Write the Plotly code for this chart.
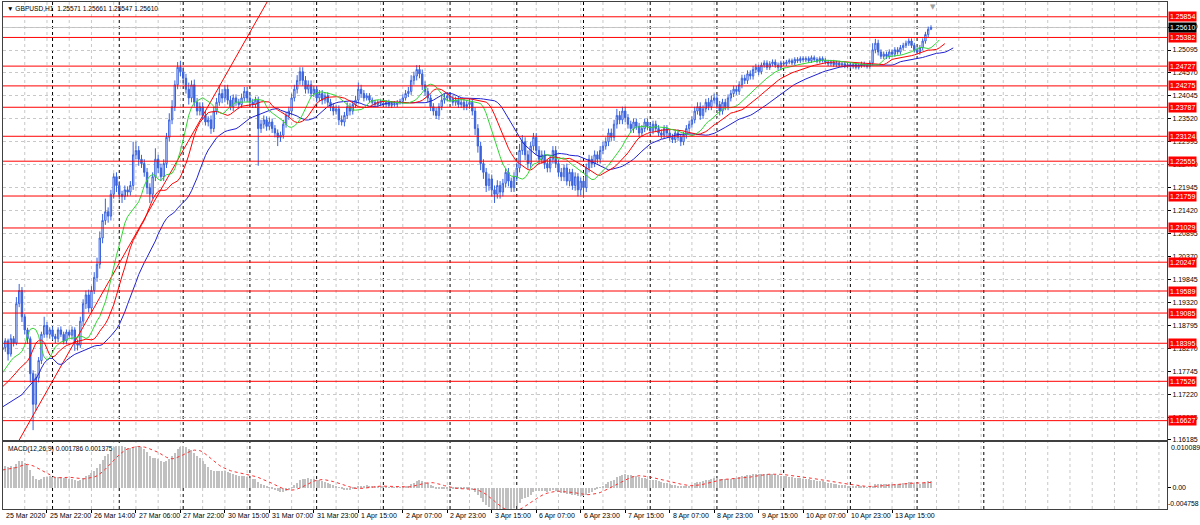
import plotly.graph_objects as go

# ---------------- data ----------------
FIRST_OPEN = 1.1825

CLOSE = [
    1.1830, 1.1845, 1.1815, 1.1850, 1.1840, 1.1930, 1.1960, 1.1900, 1.1870, 1.1850,
    1.1770, 1.1700, 1.1760, 1.1800, 1.1860, 1.1880, 1.1860, 1.1870, 1.1855, 1.1850,
    1.1870, 1.1860, 1.1845, 1.1865, 1.1858, 1.1870, 1.1840, 1.1835, 1.1890, 1.1930,
    1.1950, 1.1920, 1.1960, 1.1990, 1.2020, 1.2080, 1.2120, 1.2140, 1.2130, 1.2180,
    1.2220, 1.2200, 1.2180, 1.2175, 1.2190, 1.2185, 1.2200, 1.2270, 1.2280, 1.2260,
    1.2250, 1.2230, 1.2195, 1.2180, 1.2220, 1.2260, 1.2240, 1.2220, 1.2250, 1.2310,
    1.2350, 1.2380, 1.2430, 1.2470, 1.2460, 1.2445, 1.2420, 1.2400, 1.2430, 1.2390,
    1.2370, 1.2380, 1.2360, 1.2345, 1.2350, 1.2330, 1.2370, 1.2390, 1.2410, 1.2400,
    1.2420, 1.2395, 1.2380, 1.2400, 1.2390, 1.2385, 1.2400, 1.2415, 1.2400, 1.2390,
    1.2385, 1.2395, 1.2330, 1.2340, 1.2350, 1.2335, 1.2345, 1.2330, 1.2320, 1.2310,
    1.2315, 1.2340, 1.2360, 1.2370, 1.2400, 1.2420, 1.2440, 1.2460, 1.2440, 1.2420,
    1.2430, 1.2410, 1.2420, 1.2400, 1.2410, 1.2395, 1.2405, 1.2390, 1.2380, 1.2370,
    1.2375, 1.2350, 1.2345, 1.2360, 1.2380, 1.2370, 1.2385, 1.2395, 1.2420, 1.2410,
    1.2400, 1.2405, 1.2395, 1.2390, 1.2385, 1.2390, 1.2388, 1.2385, 1.2390, 1.2383,
    1.2387, 1.2385, 1.2390, 1.2392, 1.2400, 1.2410, 1.2415, 1.2440, 1.2450, 1.2465,
    1.2455, 1.2430, 1.2415, 1.2400, 1.2380, 1.2370, 1.2360, 1.2380, 1.2395, 1.2400,
    1.2405, 1.2398, 1.2390, 1.2395, 1.2385, 1.2390, 1.2380, 1.2385, 1.2390, 1.2370,
    1.2330, 1.2290, 1.2250, 1.2230, 1.2200, 1.2215, 1.2190, 1.2180, 1.2200, 1.2185,
    1.2205, 1.2230, 1.2210, 1.2195, 1.2220, 1.2240, 1.2280, 1.2300, 1.2270, 1.2250,
    1.2290, 1.2310, 1.2280, 1.2260, 1.2270, 1.2250, 1.2240, 1.2260, 1.2280, 1.2250,
    1.2230, 1.2220, 1.2240, 1.2210, 1.2230, 1.2200, 1.2220, 1.2190, 1.2210, 1.2195,
    1.2240, 1.2260, 1.2250, 1.2270, 1.2260, 1.2280, 1.2290, 1.2300, 1.2320, 1.2310,
    1.2340, 1.2360, 1.2350, 1.2370, 1.2355, 1.2340, 1.2330, 1.2345, 1.2335, 1.2320,
    1.2330, 1.2345, 1.2335, 1.2325, 1.2340, 1.2330, 1.2320, 1.2315, 1.2330, 1.2320,
    1.2310, 1.2305, 1.2320, 1.2310, 1.2300, 1.2315, 1.2330, 1.2340, 1.2350, 1.2370,
    1.2380, 1.2360, 1.2375, 1.2390, 1.2380, 1.2395, 1.2400, 1.2385, 1.2370, 1.2390,
    1.2380, 1.2400, 1.2410, 1.2420, 1.2415, 1.2430, 1.2445, 1.2440, 1.2455, 1.2450,
    1.2465, 1.2470, 1.2460, 1.2475, 1.2480, 1.2470, 1.2478, 1.2482, 1.2475, 1.2470,
    1.2480, 1.2478, 1.2482, 1.2485, 1.2480, 1.2488, 1.2485, 1.2490, 1.2487, 1.2490,
    1.2485, 1.2492, 1.2488, 1.2484, 1.2490, 1.2486, 1.2482, 1.2478, 1.2482, 1.2476,
    1.2480, 1.2475, 1.2478, 1.2473, 1.2476, 1.2472, 1.2476, 1.2470, 1.2474, 1.2478,
    1.2475, 1.2472, 1.2480, 1.2510, 1.2525, 1.2505, 1.2495, 1.2500, 1.2495, 1.2505,
    1.2500, 1.2510, 1.2505, 1.2515, 1.2520, 1.2525, 1.2530, 1.2520, 1.2510, 1.2505,
    1.2515, 1.2530, 1.2545, 1.2557, 1.2561,
]

# upper / lower wick beyond the body, in pips (0.0001)
HI_WICK = [
    8, 6, 5, 10, 6, 15, 15, 8, 6, 5,
    5, 8, 10, 8, 6, 20, 8, 6, 8, 6,
    6, 8, 6, 6, 6, 8, 6, 8, 10, 10,
    10, 12, 10, 12, 15, 15, 15, 30, 10, 10,
    8, 10, 10, 8, 10, 8, 10, 30, 20, 10,
    10, 10, 10, 10, 10, 25, 10, 10, 10, 10,
    15, 15, 10, 12, 15, 10, 10, 15, 10, 12,
    10, 10, 10, 10, 8, 10, 10, 10, 20, 10,
    10, 10, 10, 8, 8, 8, 10, 10, 10, 8,
    8, 8, 8, 10, 10, 8, 10, 8, 8, 8,
    8, 10, 8, 10, 10, 10, 12, 10, 10, 10,
    10, 10, 8, 8, 8, 8, 8, 8, 8, 8,
    8, 8, 10, 8, 10, 8, 8, 10, 15, 10,
    8, 6, 6, 6, 6, 5, 6, 6, 5, 6,
    5, 6, 5, 6, 8, 8, 10, 12, 10, 10,
    10, 10, 8, 8, 8, 8, 8, 8, 10, 10,
    8, 8, 8, 8, 8, 8, 8, 8, 8, 8,
    8, 10, 10, 10, 10, 12, 10, 10, 12, 10,
    10, 10, 10, 8, 10, 12, 15, 15, 10, 10,
    10, 10, 10, 10, 10, 10, 10, 10, 10, 10,
    8, 10, 8, 10, 8, 8, 10, 8, 8, 10,
    10, 10, 8, 10, 8, 10, 10, 10, 10, 10,
    10, 15, 10, 10, 10, 8, 8, 8, 8, 8,
    8, 8, 8, 8, 8, 8, 8, 8, 8, 8,
    8, 8, 8, 8, 8, 8, 8, 8, 8, 10,
    10, 10, 8, 8, 10, 10, 10, 8, 8, 8,
    8, 8, 8, 8, 8, 8, 8, 8, 8, 8,
    8, 8, 6, 6, 6, 6, 6, 6, 6, 6,
    5, 5, 5, 5, 5, 5, 5, 5, 5, 5,
    5, 5, 5, 5, 5, 5, 5, 5, 5, 5,
    5, 5, 5, 5, 5, 5, 5, 5, 5, 5,
    5, 5, 6, 15, 10, 8, 6, 6, 6, 6,
    6, 6, 6, 6, 6, 6, 6, 6, 6, 6,
    6, 6, 6, 6, 5,
]
LO_WICK = [
    6, 10, 15, 6, 8, 5, 8, 12, 10, 12,
    20, 59, 15, 10, 8, 8, 8, 10, 8, 10,
    8, 6, 8, 8, 6, 10, 18, 12, 6, 10,
    12, 10, 10, 8, 10, 10, 12, 10, 15, 10,
    10, 15, 12, 15, 8, 10, 8, 10, 10, 15,
    10, 10, 15, 20, 10, 10, 12, 10, 10, 10,
    10, 10, 10, 10, 10, 15, 10, 15, 10, 10,
    10, 10, 10, 8, 10, 12, 8, 8, 8, 12,
    10, 10, 8, 10, 8, 10, 8, 8, 10, 8,
    8, 8, 85, 10, 10, 10, 8, 10, 10, 20,
    10, 8, 8, 10, 10, 8, 10, 10, 12, 10,
    10, 8, 8, 10, 8, 10, 8, 8, 10, 10,
    8, 12, 8, 10, 8, 10, 8, 8, 8, 10,
    8, 6, 6, 6, 5, 6, 6, 5, 6, 6,
    6, 5, 6, 5, 6, 6, 8, 8, 10, 10,
    10, 12, 10, 10, 10, 10, 8, 10, 8, 8,
    8, 8, 8, 8, 8, 8, 8, 8, 10, 10,
    15, 15, 15, 15, 15, 12, 15, 20, 10, 15,
    10, 10, 12, 10, 10, 10, 10, 10, 12, 12,
    10, 10, 10, 10, 10, 12, 10, 10, 10, 10,
    10, 10, 10, 10, 12, 10, 12, 15, 12, 23,
    10, 10, 10, 8, 10, 10, 8, 8, 10, 8,
    8, 10, 10, 10, 10, 10, 10, 10, 8, 10,
    8, 8, 8, 8, 8, 8, 8, 8, 8, 8,
    8, 8, 8, 8, 10, 8, 8, 8, 8, 8,
    8, 10, 8, 8, 8, 8, 8, 10, 10, 8,
    8, 8, 8, 8, 8, 8, 8, 8, 8, 8,
    8, 8, 8, 6, 6, 6, 6, 6, 6, 6,
    5, 5, 5, 5, 5, 5, 5, 5, 5, 5,
    5, 5, 5, 5, 5, 5, 5, 5, 5, 5,
    5, 5, 5, 5, 5, 5, 5, 5, 5, 5,
    5, 5, 5, 6, 8, 8, 6, 6, 6, 6,
    6, 6, 6, 6, 6, 6, 6, 6, 6, 6,
    6, 6, 6, 6, 2,
]

TIME_LABELS = ["25 Mar 2020", "25 Mar 22:00", "26 Mar 14:00", "27 Mar 06:00", "27 Mar 22:00",
               "30 Mar 15:00", "31 Mar 07:00", "31 Mar 23:00", "1 Apr 15:00", "2 Apr 07:00",
               "2 Apr 23:00", "3 Apr 15:00", "6 Apr 07:00", "6 Apr 23:00", "7 Apr 15:00",
               "8 Apr 07:00", "8 Apr 23:00", "9 Apr 15:00", "10 Apr 07:00", "10 Apr 23:00",
               "13 Apr 15:00"]
LABEL_BARS = [0, 16, 32, 48, 64, 80, 96, 112, 128, 144, 160, 176, 192, 208, 224,
              240, 256, 272, 288, 304, 320]
DAY_SEP_BARS = [18, 42, 65, 89, 113, 137, 161, 185, 209, 233, 257, 281, 305, 329, 353]

LEVELS = [1.25854, 1.25382, 1.24727, 1.24275, 1.23787, 1.23124, 1.22555, 1.21759,
          1.21029, 1.20247, 1.19589, 1.19085, 1.18395, 1.17526, 1.16627]
PRICE_TICKS = [1.16695, 1.17220, 1.17745, 1.18270, 1.18795, 1.19320, 1.19845, 1.20370,
               1.20895, 1.21420, 1.21945, 1.22470, 1.22995, 1.23520, 1.24045, 1.24570,
               1.25095, 1.25620]
PRICE_MIN = 1.16185
PRICE_TOP = 1.26192
CURRENT_PRICE = 1.25610
MACD_MAX = 0.010089
MACD_MIN = -0.004758

TREND_BARS = [5.6, 85.4]
TREND_PRICES = [1.1614, 1.25095]

# Alligator (jaw / teeth / lips): smoothed MA of median price, shifted forward
ALLIGATOR_PERIODS = [13, 8, 5]
ALLIGATOR_SHIFTS = [8, 5, 3]
# the lines' values over the first bars on screen (before the shifted data starts)
JAW_LEAD = [1.1694, 1.1698, 1.1701, 1.1705, 1.1710, 1.1714, 1.1719, 1.1722]
TEETH_LEAD = [1.1740, 1.1745, 1.1752, 1.1759, 1.1765]
LIPS_LEAD = [1.1772, 1.1782, 1.1792]

MACD_SEEDS = [1.1775, 1.1730, 0.0038]    # ema12, ema26, signal

TITLE = "\u25bc GBPUSD,H1  1.25571 1.25661 1.25547 1.25610"
MACD_TITLE = "MACD(12,26,9) 0.001786 0.001375"

# ---------------- derived series ----------------
n = len(CLOSE)
bars = list(range(n))
opens = [FIRST_OPEN] + CLOSE[:-1]
highs = [max(o, c) + h * 0.0001 for o, c, h in zip(opens, CLOSE, HI_WICK)]
lows = [min(o, c) - l * 0.0001 for o, c, l in zip(opens, CLOSE, LO_WICK)]
median = [(h + l) / 2 for h, l in zip(highs, lows)]


def ema(vals, period, seed):
    a = 2.0 / (period + 1)
    out, e = [], seed
    for v in vals:
        e = e + a * (v - e)
        out.append(e)
    return out


def smma(vals, period, prev):
    out = []
    for v in vals:
        prev = (prev * (period - 1) + v) / period
        out.append(prev)
    return out


alligator = []
for per, sh, lead in zip(ALLIGATOR_PERIODS, ALLIGATOR_SHIFTS, [JAW_LEAD, TEETH_LEAD, LIPS_LEAD]):
    vals = list(lead) + smma(median, per, lead[-1])
    alligator.append((list(range(len(vals))), vals))

e12 = ema(CLOSE, 12, MACD_SEEDS[0])
e26 = ema(CLOSE, 26, MACD_SEEDS[1])
macd = [a - b for a, b in zip(e12, e26)]
padded = [MACD_SEEDS[2]] * 8 + macd
signal = [sum(padded[i:i + 9]) / 9 for i in range(n)]

slope = (TREND_PRICES[1] - TREND_PRICES[0]) / (TREND_BARS[1] - TREND_BARS[0])
tr_x = [-5, 120]
tr_y = [TREND_PRICES[0] + slope * (x - TREND_BARS[0]) for x in tr_x]

# ---------------- figure ----------------
BLUE_C = "#3a62dc"
FONT = "Liberation Sans"
FS = 7
X_RANGE = [0.18, 418.9]

fig = go.Figure()

fig.add_trace(go.Scatter(x=tr_x, y=tr_y, mode="lines", line=dict(color="#ff0000", width=1),
                         xaxis="x", yaxis="y", hoverinfo="skip"))
fig.add_trace(go.Candlestick(
    x=bars, open=opens, high=highs, low=lows, close=CLOSE,
    increasing=dict(line=dict(color=BLUE_C, width=1), fillcolor="#ffffff"),
    decreasing=dict(line=dict(color=BLUE_C, width=1), fillcolor=BLUE_C),
    whiskerwidth=0, xaxis="x", yaxis="y"))
for (xs, vals), col in zip(alligator, ["#2222d0", "#ff0000", "#33d633"]):
    fig.add_trace(go.Scatter(x=xs, y=vals, mode="lines", line=dict(color=col, width=1),
                             xaxis="x", yaxis="y", hoverinfo="skip"))

fig.add_trace(go.Bar(x=bars, y=macd, width=0.4, marker=dict(color="#c0c0c0", line=dict(width=0)),
                     xaxis="x2", yaxis="y2"))
fig.add_trace(go.Scatter(x=bars, y=signal, mode="lines",
                         line=dict(color="#ff3030", width=1, dash="dot"),
                         xaxis="x2", yaxis="y2", hoverinfo="skip"))

shapes = []
for b in range(0, 419, 8):
    shapes.append(dict(type="line", xref="x", yref="paper", x0=b, x1=b, y0=0, y1=1,
                       line=dict(color="#c8c8c8", width=1, dash="3px,3px"), layer="below"))
for b in DAY_SEP_BARS:
    shapes.append(dict(type="line", xref="x", yref="paper", x0=b, x1=b, y0=0, y1=1,
                       line=dict(color="#000000", width=1, dash="3px,3px"), layer="below"))
shapes.append(dict(type="line", xref="paper", yref="y", x0=0, x1=1, y0=CURRENT_PRICE,
                   y1=CURRENT_PRICE, line=dict(color="#c0c0c0", width=1), layer="below"))
for lv in LEVELS:
    shapes.append(dict(type="line", xref="paper", yref="y", x0=0, x1=1, y0=lv, y1=lv,
                       line=dict(color="#ff0000", width=1)))

annotations = []
for lv in LEVELS:
    annotations.append(dict(x=1, xref="paper", y=lv, yref="y", xanchor="left", yanchor="middle",
                            text=f"{lv:.5f}", showarrow=False, bgcolor="#ff0000",
                            font=dict(color="#ffffff", size=FS, family=FONT),
                            borderpad=1, xshift=1))
annotations.append(dict(x=1, xref="paper", y=CURRENT_PRICE, yref="y", xanchor="left",
                        yanchor="middle", text=f"{CURRENT_PRICE:.5f}", showarrow=False,
                        bgcolor="#000000", font=dict(color="#ffffff", size=FS, family=FONT),
                        borderpad=1, xshift=1))
for b, t in zip(LABEL_BARS, TIME_LABELS):
    annotations.append(dict(x=max(b, X_RANGE[0] + 0.01), xref="x2", y=0, yref="paper",
                            xanchor="left", yanchor="top", text=t, showarrow=False,
                            xshift=1, yshift=-1,
                            font=dict(color="#000000", size=FS, family=FONT)))
annotations.append(dict(x=0, xref="paper", y=1, yref="paper", xanchor="left", yanchor="top",
                        text=TITLE, showarrow=False, xshift=2, yshift=-1,
                        font=dict(color="#000000", size=6.6, family=FONT)))
MACD_DOM = [0, 0.1321]
annotations.append(dict(x=0, xref="paper", y=MACD_DOM[1], yref="paper", xanchor="left",
                        yanchor="top", text=MACD_TITLE, showarrow=False, xshift=3, yshift=-1,
                        font=dict(color="#000000", size=6.6, family=FONT)))
annotations.append(dict(x=1, xref="paper", y=MACD_MAX, yref="y2", xanchor="left", yanchor="top",
                        text=f"{MACD_MAX:.6f}", showarrow=False, xshift=2,
                        font=dict(color="#000000", size=FS, family=FONT)))
annotations.append(dict(x=1, xref="paper", y=MACD_MIN, yref="y2", xanchor="left",
                        yanchor="bottom", text=f"{MACD_MIN:.6f}", showarrow=False, xshift=-1,
                        font=dict(color="#000000", size=6.8, family=FONT)))
annotations.append(dict(x=334.6, xref="x", y=1, yref="paper", xanchor="center", yanchor="top",
                        text="\u25bc", showarrow=False, yshift=1,
                        font=dict(color="#a0a0a0", size=7, family="DejaVu Sans")))

axis_common = dict(showline=True, mirror=True, linecolor="#404040", linewidth=1,
                   zeroline=False, fixedrange=True)

fig.update_layout(
    width=1200, height=525,
    margin=dict(l=3, r=33, t=2, b=16),
    paper_bgcolor="#ffffff", plot_bgcolor="#ffffff",
    showlegend=False,
    font=dict(family=FONT, size=FS, color="#000000"),
    xaxis=dict(domain=[0, 1], anchor="y", range=X_RANGE, showticklabels=False, showgrid=False,
               rangeslider=dict(visible=False), ticks="", **axis_common),
    xaxis2=dict(domain=[0, 1], anchor="y2", range=X_RANGE, matches="x", showgrid=False,
                showticklabels=False, tickvals=LABEL_BARS, ticks="outside", ticklen=3,
                tickcolor="#000000", **axis_common),
    yaxis=dict(domain=[0.1361, 1], anchor="x", side="right", range=[PRICE_MIN - 1e-6, PRICE_TOP],
               tickvals=PRICE_TICKS + [PRICE_MIN],
               ticktext=[f"{v:.5f}" for v in PRICE_TICKS + [PRICE_MIN]],
               ticks="outside", ticklen=3, tickcolor="#000000", showgrid=True,
               gridcolor="#c8c8c8", griddash="3px,3px", gridwidth=1,
               tickfont=dict(size=FS, family=FONT, color="#000000"), **axis_common),
    yaxis2=dict(domain=MACD_DOM, anchor="x2", side="right", range=[MACD_MIN, MACD_MAX],
                tickvals=[0], ticktext=["0.00"], ticks="outside", ticklen=3, tickcolor="#000000",
                showgrid=False, tickfont=dict(size=FS, family=FONT, color="#000000"),
                **axis_common),
    shapes=shapes, annotations=annotations,
    bargap=0,
)

fig.write_html("out.html", config={"displayModeBar": False},
               post_script="document.body.style.margin='0px';")
